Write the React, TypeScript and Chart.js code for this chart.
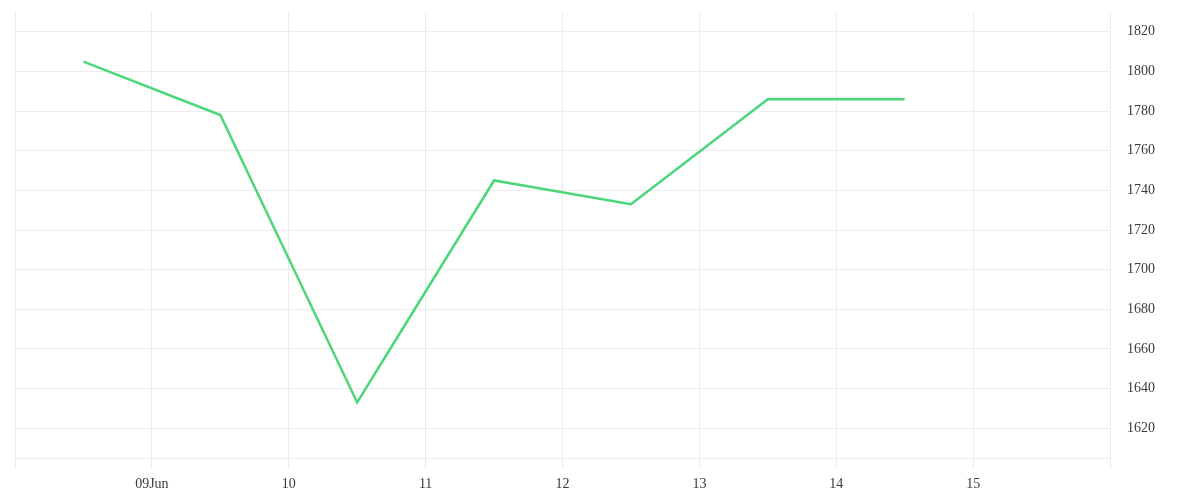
import React, { useEffect, useRef } from "react";
import { Chart, registerables } from "chart.js";

Chart.register(...registerables);

// Day-of-June positions (noon of each day)
const days = [8.5, 9.5, 10.5, 11.5, 12.5, 13.5, 14.5];
const values = [1805, 1778, 1633, 1745, 1733, 1786, 1786];
const dayLabels: Record<number, string> = { 9: "09Jun", 10: "10", 11: "11", 12: "12", 13: "13", 14: "14", 15: "15" };
const xMin = 8;
const xMax = 16;
const yMin = 1605;
const yMax = 1830;

const GRID = "#ececec";
const TEXT = "#3a3a3a";
const FONT = { family: "'Liberation Serif', serif", size: 14 };

export default function App() {
  const ref = useRef<HTMLCanvasElement | null>(null);
  useEffect(() => {
    if (!ref.current) return;
    const chart = new Chart(ref.current, {
      type: "line",
      data: {
        datasets: [
          {
            data: days.map((d, i) => ({ x: d, y: values[i] })),
            borderColor: "#4cd67a",
            borderWidth: 2.5,
            pointRadius: 0,
            tension: 0,
            fill: false,
          },
        ],
      },
      options: {
        animation: false,
        responsive: true,
        maintainAspectRatio: false,
        layout: { padding: { left: 15, top: 12, right: 0, bottom: 0 } },
        plugins: { legend: { display: false }, tooltip: { enabled: false } },
        scales: {
          x: {
            type: "linear",
            min: xMin,
            max: xMax,
            ticks: {
              stepSize: 1,
              autoSkip: false,
              maxRotation: 0,
              padding: 7,
              color: TEXT,
              font: FONT,
              callback: (v: any) => dayLabels[Number(v)] ?? "",
            },
            grid: { color: GRID, tickLength: 11, lineWidth: 1 },
            border: { color: GRID },
            afterFit: (s: any) => {
              s.height = 42;
              s.paddingLeft = 0;
              s.paddingRight = 0;
            },
          },
          y: {
            position: "right",
            min: yMin,
            max: yMax,
            ticks: {
              stepSize: 20,
              padding: 17,
              color: TEXT,
              font: FONT,
              callback: (v: any) => (Number(v) % 20 === 0 ? String(v) : ""),
            },
            grid: {
              drawTicks: false,
              color: (ctx: any) => (ctx.tick && Number(ctx.tick.value) % 20 === 0 ? GRID : "rgba(0,0,0,0)"),
            },
            border: { color: GRID },
            afterFit: (s: any) => {
              s.width = 90;
              s.paddingTop = 0;
              s.paddingBottom = 0;
            },
          },
        },
      },
    });
    return () => chart.destroy();
  }, []);
  return (
    <div style={{ position: "absolute", left: 0, top: 0, width: 1200, height: 500, background: "#fff" }}>
      <canvas ref={ref} />
    </div>
  );
}
